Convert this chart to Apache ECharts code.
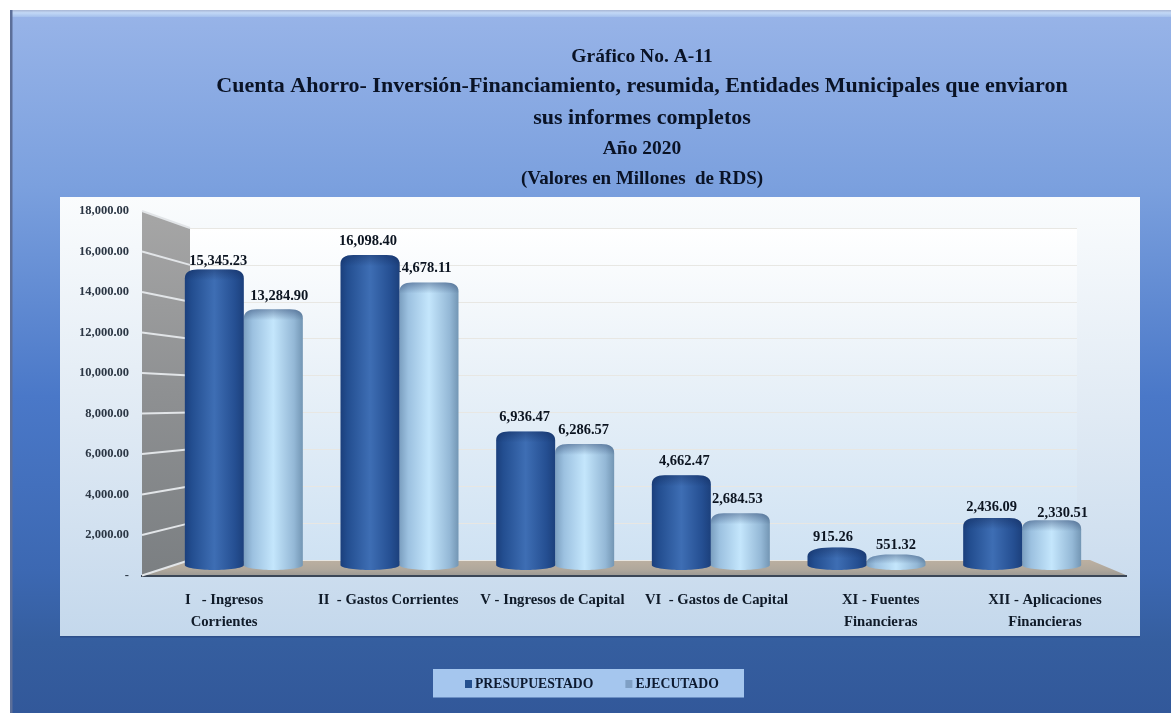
<!DOCTYPE html>
<html><head><meta charset="utf-8">
<style>html,body{margin:0;padding:0;background:#fff}#c{width:1171px;height:713px;filter:blur(0.4px)}</style>
<script src="https://cdn.jsdelivr.net/npm/echarts@6/dist/echarts.min.js"></script>
</head><body><div id="c"></div>
<script>
const titleLines = ['Gráfico No. A-11','Cuenta Ahorro- Inversión-Financiamiento, resumida, Entidades Municipales que enviaron','sus informes completos','Año 2020','(Valores en Millones  de RDS)'];
const categories = ['I   - Ingresos\nCorrientes','II  - Gastos Corrientes','V - Ingresos de Capital','VI  - Gastos de Capital','XI - Fuentes\nFinancieras','XII - Aplicaciones\nFinancieras'];
const presupuestado = [15345.23,16098.40,6936.47,4662.47,915.26,2436.09];
const ejecutado = [13284.90,14678.11,6286.57,2684.53,551.32,2330.51];
const yTicks = [0,2000,4000,6000,8000,10000,12000,14000,16000,18000];

const SERIF = '"Liberation Serif","Times New Roman",serif';
const fmt = v => v.toLocaleString('en-US',{minimumFractionDigits:2,maximumFractionDigits:2});
const chart = echarts.init(document.getElementById('c'));

// 3D box layout (decoration only)
const F = {l:142,r:1127,top:211,zero:575.5};
const B = {l:190,r:1090,wallR:1077,top:228,zero:560};
const frontY = v => F.zero-(F.zero-F.top)*v/18000;
const backY = v => B.zero-(B.zero-B.top)*v/18000;
const lin = (x,y,x2,y2,stops)=>({type:'linear',x,y,x2,y2,colorStops:stops.map(c=>({offset:c[0],color:c[1]}))});

const decor = [
 {type:'rect',z:-10,shape:{x:10,y:10,width:1161,height:703},style:{fill:lin(0,0,0,1,[[0,'#98b4e8'],[0.25,'#7ba0de'],[0.55,'#4a78c8'],[0.8,'#3c68b2'],[0.9,'#355e9f'],[1,'#32589a']])}},
 {type:'rect',z:-9,shape:{x:10,y:10,width:1161,height:7},style:{fill:lin(0,0,0,1,[[0,'#a8b6d4'],[0.4,'#c2d8f6'],[1,'#a4c0ec']])}},
 {type:'rect',z:-9,shape:{x:10,y:10,width:2.5,height:703},style:{fill:'#5c6f99'}},
 {type:'rect',z:-8,shape:{x:60,y:197,width:1080,height:439},style:{fill:lin(0,0,0,1,[[0,'#fafcfd'],[0.5,'#e0eaf4'],[1,'#c4d8ec']])}},
 {type:'rect',z:-8,shape:{x:60,y:636,width:1080,height:1.5},style:{fill:'#2c4f8a'}},
 {type:'rect',z:-7,shape:{x:B.l,y:B.top,width:B.wallR-B.l,height:B.zero-B.top},style:{fill:lin(0,0,0,1,[[0,'#ffffff'],[0.45,'#e9f1f8'],[1,'#cfe2f3']])}},
 {type:'polygon',z:-6,shape:{points:[[F.l,F.top],[B.l,B.top],[B.l,B.zero],[F.l,F.zero]]},style:{fill:lin(0,0,0,1,[[0,'#a6a6a6'],[0.5,'#8e9092'],[1,'#7b7f82']])}},
 {type:'polygon',z:-6,shape:{points:[[F.l,F.zero],[B.l,B.zero],[B.r,B.zero],[F.r,F.zero]]},style:{fill:lin(0,0,0,1,[[0,'#bcb0a1'],[0.6,'#b0a89c'],[1,'#9d9a94']])}},
 {type:'rect',z:-5,shape:{x:F.l-1,y:F.zero-0.5,width:F.r-F.l+1,height:2},style:{fill:'#3a4656'}},
 {type:'rect',z:-8,shape:{x:433,y:669,width:311,height:28.5},style:{fill:'#a5c6ee'}},
 ...yTicks.map(v=>({type:'line',z:-5,shape:{x1:F.l,y1:frontY(v),x2:B.l,y2:backY(v)},style:{stroke:'#e2e5e8',lineWidth:2}}))
];

// label nudges relative to default "above the bar" spot (pairs per category)
const nudgeP = [[4,6],[-2,0],[-1,0],[3,0],[-4,4],[-1,3]];
const nudgeE = [[6,1],[-6,0],[-1,0],[-3,0],[0,5],[11,7]];

function cylinder(dir,stops,values,nudge){
  return function(params,api){
    const i=api.value(0), v=api.value(1);
    const c=api.coord([i,v]), z=api.coord([i,0]);
    const band=api.size([1,0])[0], w=band*0.379;
    const x=c[0]+dir*w/2-w/2, y=c[1], yb=z[1]+5, h=yb-y;
    const rx=h<30?w*0.42:13, ryT=Math.min(9,h*0.55), ryB=5;
    const d=`M${x},${y+ryT} C${x},${y+ryT*0.3} ${x+rx*0.35},${y} ${x+rx},${y} L${x+w-rx},${y} C${x+w-rx*0.35},${y} ${x+w},${y+ryT*0.3} ${x+w},${y+ryT} L${x+w},${yb-ryB} C${x+w},${yb-ryB*0.3} ${x+w-w*0.3},${yb} ${x+w/2},${yb} C${x+w*0.3},${yb} ${x},${yb-ryB*0.3} ${x},${yb-ryB} Z`;
    const n=nudge[i];
    return {type:'group',children:[
      {type:'path',shape:{pathData:d},style:{fill:lin(0,0,1,0,stops)}},
      {type:'path',silent:true,shape:{pathData:d},style:{fill:lin(0,0,0,1,[[0,'rgba(15,35,80,0.38)'],[Math.min(0.6,11/h),'rgba(15,35,80,0)'],[1,'rgba(15,35,80,0)']])}},
      {type:'text',z2:50,style:{text:fmt(v),x:c[0]+dir*w/2+n[0],y:y-14+n[1],align:'center',verticalAlign:'middle',font:'bold 14.5px '+SERIF,fill:'#0c1420'}}
    ]};
  };
}
const darkStops=[[0,'#1b3f7c'],[0.12,'#234e90'],[0.5,'#3e6eb4'],[0.85,'#254f92'],[1,'#1c407c']];
const lightStops=[[0,'#7b9fc0'],[0.15,'#9cc1e0'],[0.5,'#c4e6fc'],[0.85,'#94b8d6'],[1,'#7396b4']];

const hiddenY=gi=>({gridIndex:gi,type:'value',min:0,max:18000,interval:2000,axisLabel:{show:false},axisLine:{show:false},axisTick:{show:false},splitLine:{show:false}});
const hiddenX=gi=>({gridIndex:gi,type:'category',data:categories,axisLabel:{show:false},axisLine:{show:false},axisTick:{show:false},splitLine:{show:false}});
const tt=(i,top,size)=>({text:titleLines[i],left:642,top,padding:0,textAlign:'center',textStyle:{fontFamily:SERIF,fontWeight:'bold',fontSize:size,color:'#0a1326'}});

const option={
 animation:false,
 textStyle:{fontFamily:SERIF},
 title:[tt(0,47,19.5),tt(1,75,22),tt(2,107,22),tt(3,139,19.5),tt(4,170,19)],
 graphic:{elements:decor},
 grid:[
  {left:F.l,right:1171-F.r,top:F.top,height:F.zero-F.top},
  {left:166,width:934,top:218.5,height:346.5},
  {left:B.l,width:B.wallR-B.l,top:B.top,height:B.zero-B.top}
 ],
 xAxis:[
  {gridIndex:0,type:'category',data:categories,axisTick:{show:false},axisLine:{show:false},splitLine:{show:false},
   axisLabel:{interval:0,margin:14,lineHeight:22,fontFamily:SERIF,fontWeight:'bold',fontSize:14.7,color:'#0f1a28'}},
  hiddenX(1),hiddenX(2)
 ],
 yAxis:[
  {gridIndex:0,type:'value',min:0,max:18000,interval:2000,axisLine:{show:false},axisTick:{show:false},splitLine:{show:false},
   axisLabel:{margin:13,fontFamily:SERIF,fontWeight:'bold',fontSize:12.5,color:'#2b3644',formatter:v=>v===0?'-':fmt(v)}},
  hiddenY(1),
  Object.assign(hiddenY(2),{splitLine:{show:true,lineStyle:{color:'#e8e7e3',width:1.2}}})
 ],
 legend:{show:true,data:['PRESUPUESTADO','EJECUTADO'],left:465,top:677,icon:'rect',itemWidth:7,itemHeight:8,itemGap:32,padding:0,
  textStyle:{fontFamily:SERIF,fontWeight:'bold',fontSize:13.7,color:'#0d1a30',padding:[0,0,0,-2]}},
 series:[
  {name:'PRESUPUESTADO',type:'custom',xAxisIndex:1,yAxisIndex:1,z:3,itemStyle:{color:'#24508f'},encode:{x:0,y:1},
   data:presupuestado.map((v,i)=>[i,v]),renderItem:cylinder(-1,darkStops,presupuestado,nudgeP)},
  {name:'EJECUTADO',type:'custom',xAxisIndex:1,yAxisIndex:1,z:2,itemStyle:{color:'#7f9fc4'},encode:{x:0,y:1},
   data:ejecutado.map((v,i)=>[i,v]),renderItem:cylinder(1,lightStops,ejecutado,nudgeE)}
 ]
};
chart.setOption(option);
</script></body></html>
